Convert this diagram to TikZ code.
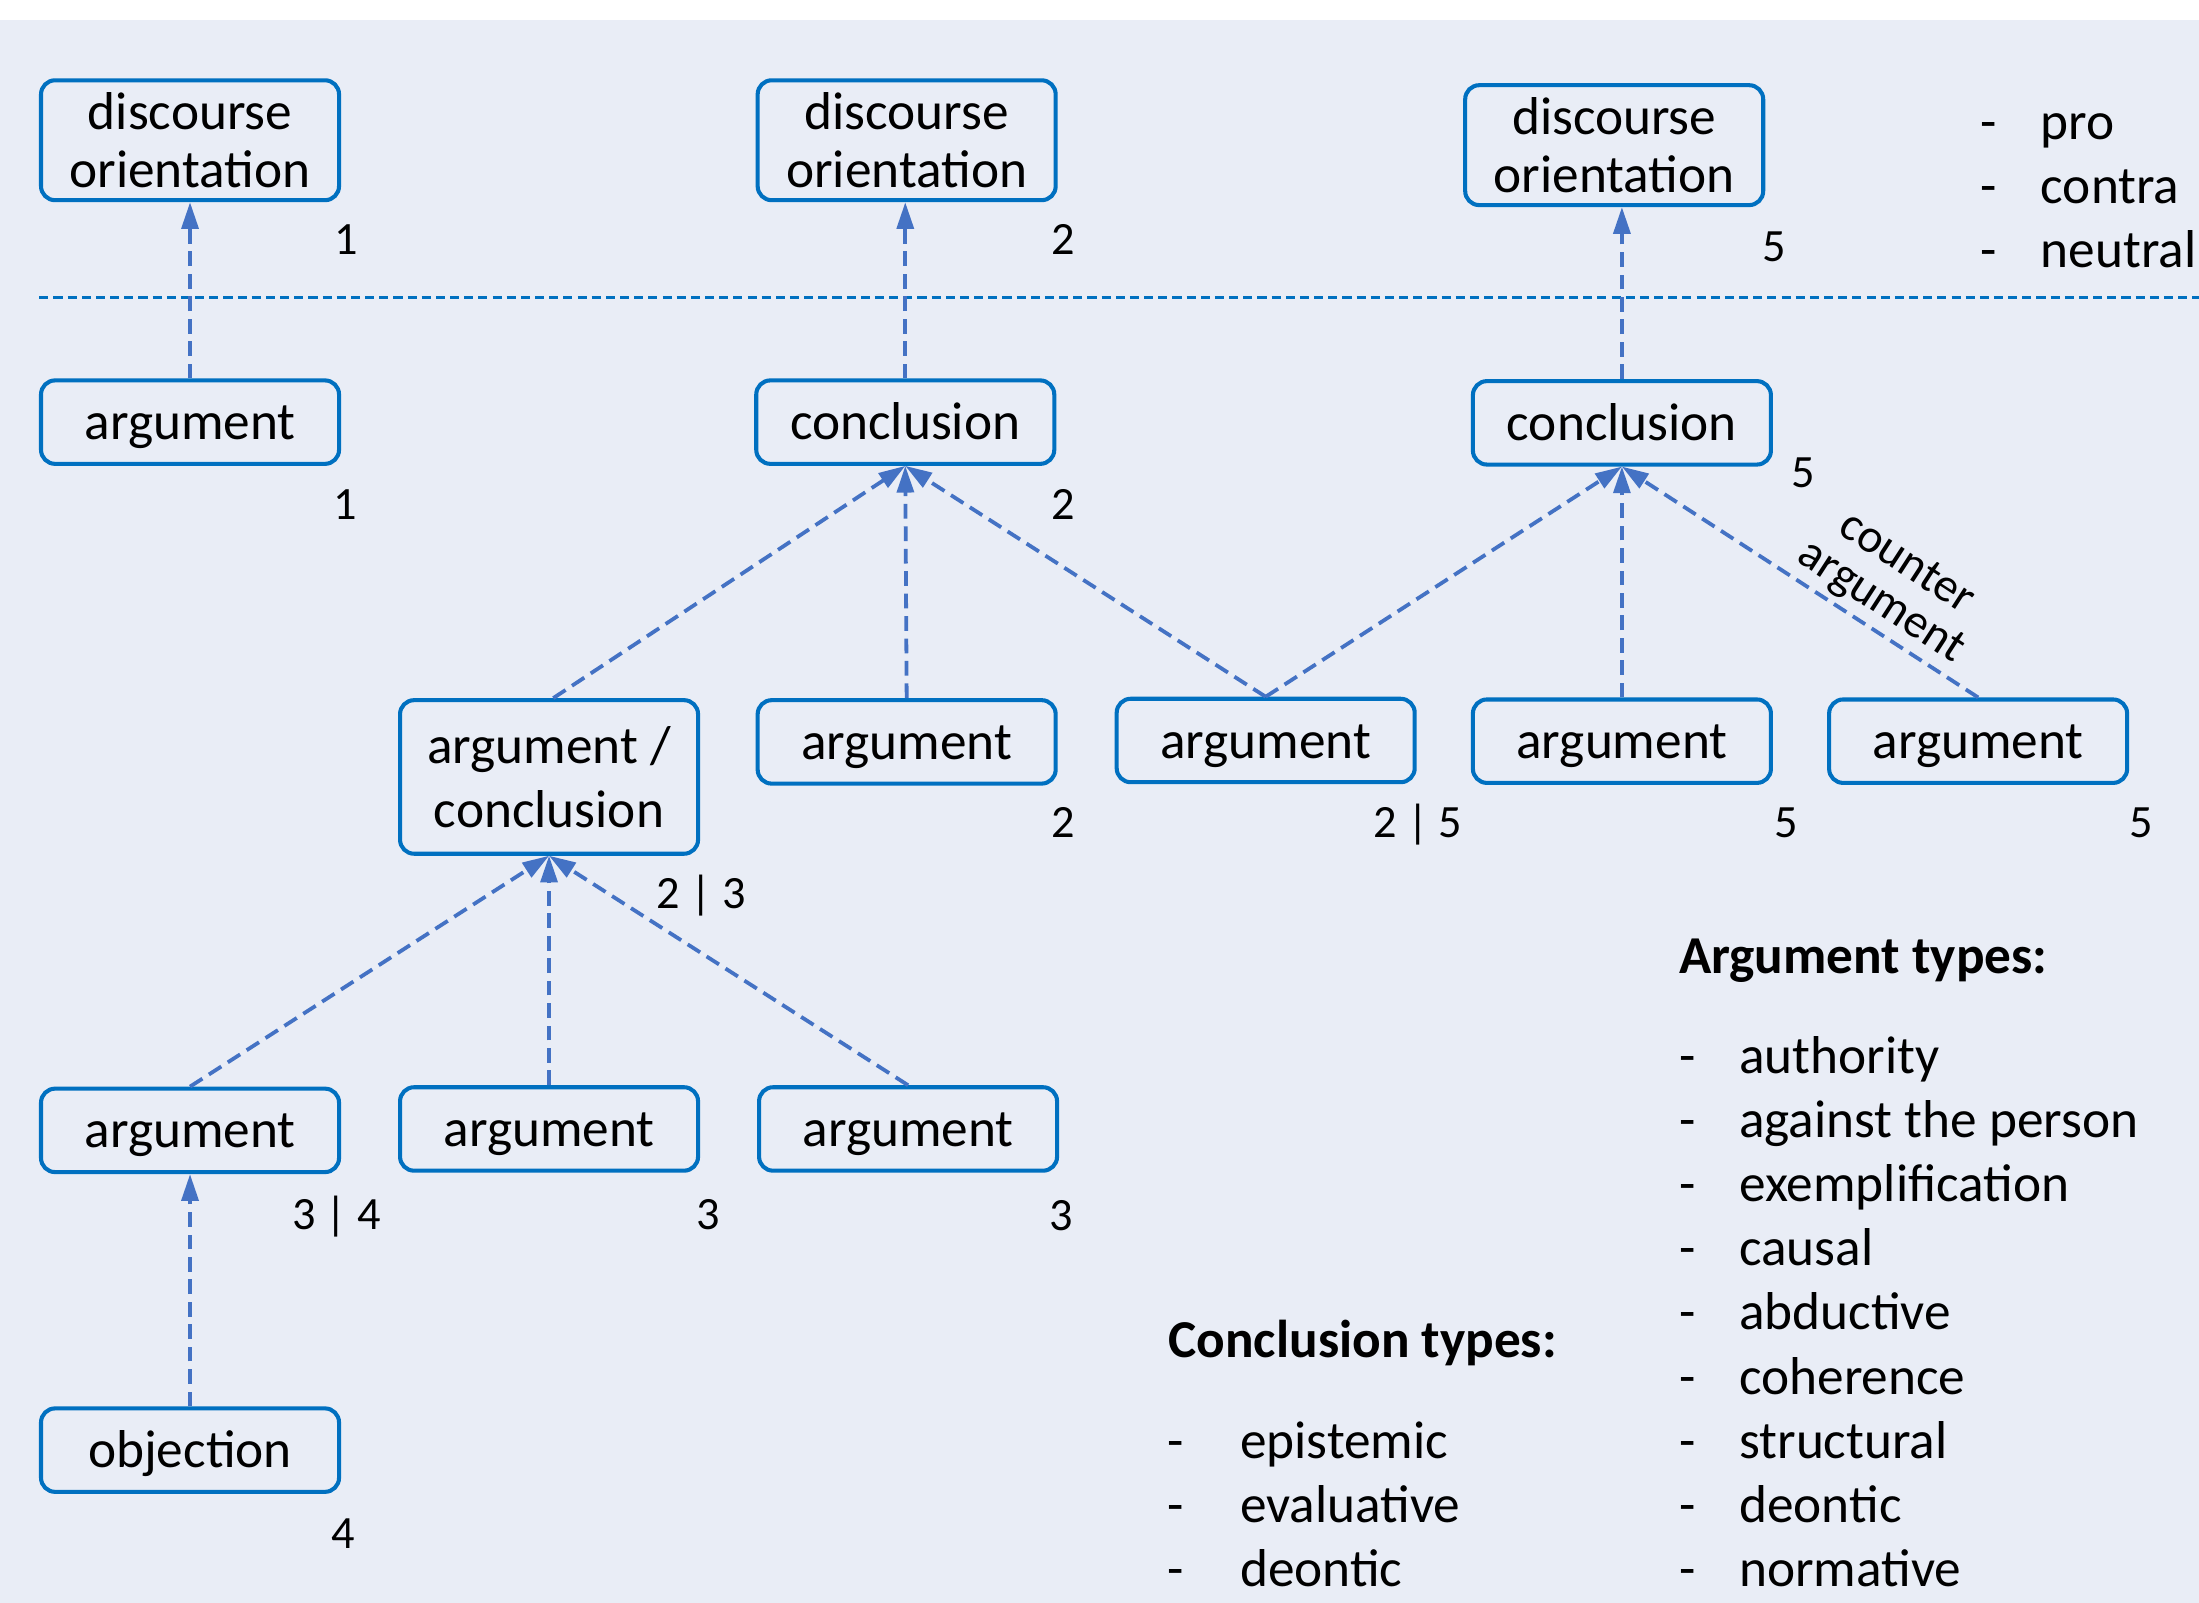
\documentclass[tikz,border=0pt]{standalone}
\usepackage{fontspec}
\setmainfont{Carlito}
\usetikzlibrary{arrows.meta}
\definecolor{bgc}{RGB}{233,237,246}
\definecolor{boxblue}{RGB}{0,112,192}
\definecolor{linkblue}{RGB}{68,114,196}
\tikzset{
  box/.style={draw=boxblue, line width=2.9pt, rounded corners=10pt, minimum width=212.5pt, inner sep=0pt, align=center},
  onebox/.style={box, minimum height=59.5pt, text height=25pt, text depth=0pt, font=\fontsize{38}{41}\selectfont},
  twobox/.style={box, font=\fontsize{38}{41}\selectfont},
  link/.style={draw=linkblue, line width=2.7pt, dash pattern=on 10.5pt off 5.5pt, -{Triangle[length=19pt,width=12pt]}},
  sep/.style={draw=boxblue, line width=1.8pt, dash pattern=on 6.5pt off 3.6pt},
  num/.style={font=\fontsize{33}{36}\selectfont, anchor=base, inner sep=0pt},
  txt/.style={font=\fontsize{38}{41}\selectfont, anchor=base west, inner sep=0pt},
  hdr/.style={anchor=base west, inner sep=0pt, font=\fontsize{38}{41}\selectfont\bfseries},
  rot/.style={font=\fontsize{34}{36}\selectfont, rotate=-33, inner sep=0pt},
}
\begin{document}
\begin{tikzpicture}[x=1pt,y=-1pt]
\fill[white] (0,0) rectangle (1568,1143);
\fill[bgc] (0,14) rectangle (1568,1143);
\useasboundingbox (0,0) rectangle (1568,1143);

% separator
\coordinate (sepL) at (28,212);
\coordinate (sepR) at (1568,212);
\draw[sep] (sepL) -- (sepR);

% boxes
\node[twobox, minimum height=85.5pt] (d1) at (135.5,100) {discourse\\orientation};
\node[twobox, minimum height=85.5pt] (d2) at (646.5,100) {discourse\\orientation};
\node[twobox, minimum height=85.5pt] (d3) at (1151,103.5) {discourse\\orientation};
\node[onebox] (a1) at (135.5,301) {argument};
\node[onebox] (c2) at (645.5,301) {conclusion};
\node[onebox] (c5) at (1156.5,301.5) {conclusion};
\node[box, minimum height=109.5pt, font=\fontsize{38}{46}\selectfont] (ac) at (391.5,554) {argument /\\conclusion};
\node[onebox] (a2) at (646.5,529) {argument};
\node[onebox] (a25) at (902.5,528) {argument};
\node[onebox] (a5a) at (1156.5,528.5) {argument};
\node[onebox] (a5b) at (1410.5,528.5) {argument};
\node[onebox] (b1) at (135.5,806) {argument};
\node[onebox] (b2) at (391.5,805) {argument};
\node[onebox] (b3) at (647.5,805) {argument};
\node[onebox] (ob) at (135.5,1034) {objection};

% connectors
\draw[link] (a1.north) -- (d1.south);
\draw[link] (c2.north) -- (c2.north |- d2.south);
\draw[link] (c5.north) -- (c5.north |- d3.south);
\draw[link] ([xshift=3pt]ac.north) -- (c2.south);
\draw[link] (a2.north) -- (c2.south);
\draw[link] (a25.north) -- (c2.south);
\draw[link] (a25.north) -- (c5.south);
\draw[link] (a5a.north) -- (c5.south);
\draw[link] (a5b.north) -- (c5.south);
\draw[link] (b1.north) -- (ac.south);
\draw[link] (b2.north) -- (ac.south);
\draw[link] (b3.north) -- (ac.south);
\draw[link] (ob.north) -- (b1.south);

% counter argument label
\node[rot] (ca1) at (1360.5,400) {counter};
\node[rot] (ca2) at (1341,430) {argument};

% numbers
\node[num] (n1) at (247,181.5) {1};
\node[num] (n2) at (758,181.5) {2};
\node[num] (n3) at (1265,186.5) {5};
\node[num] (n4) at (246,370.5) {1};
\node[num] (n5) at (758,370.5) {2};
\node[num] (n6) at (1286,347.5) {5};
\node[num] (n7) at (500,647.5) {2 | 3};
\node[num] (n8) at (758,597.5) {2};
\node[num] (n9) at (1011,597.5) {2 | 5};
\node[num] (n10) at (1274,597.5) {5};
\node[num] (n11) at (1527,597.5) {5};
\node[num] (n12) at (240,876.5) {3 | 4};
\node[num] (n13) at (505,876.5) {3};
\node[num] (n14) at (757,877.5) {3};
\node[num] (n15) at (245,1104.5) {4};

% orientation legend
\foreach \t/\yy [count=\i] in {pro/99.5, contra/145.2, neutral/190.9} {
  \node[txt] (od\i) at (1412,\yy) {-};
  \node[txt] (ot\i) at (1455,\yy) {\t};
}

% argument types
\node[hdr] (ahdr) at (1197,694) {Argument types:};
\foreach \t/\yy [count=\i] in {authority/765.5, against the person/811.2, exemplification/856.9, causal/902.6, abductive/948.3, coherence/994, structural/1039.7, deontic/1085.4, normative/1131.1} {
  \node[txt] (ad\i) at (1197,\yy) {-};
  \node[txt] (at\i) at (1240,\yy) {\t};
}

% conclusion types
\node[hdr] (chdr) at (833,968) {Conclusion types:};
\foreach \t/\yy [count=\i] in {epistemic/1039.7, evaluative/1085.4, deontic/1131.1} {
  \node[txt] (cd\i) at (832,\yy) {-};
  \node[txt] (ct\i) at (884,\yy) {\t};
}
\end{tikzpicture}
\end{document}
